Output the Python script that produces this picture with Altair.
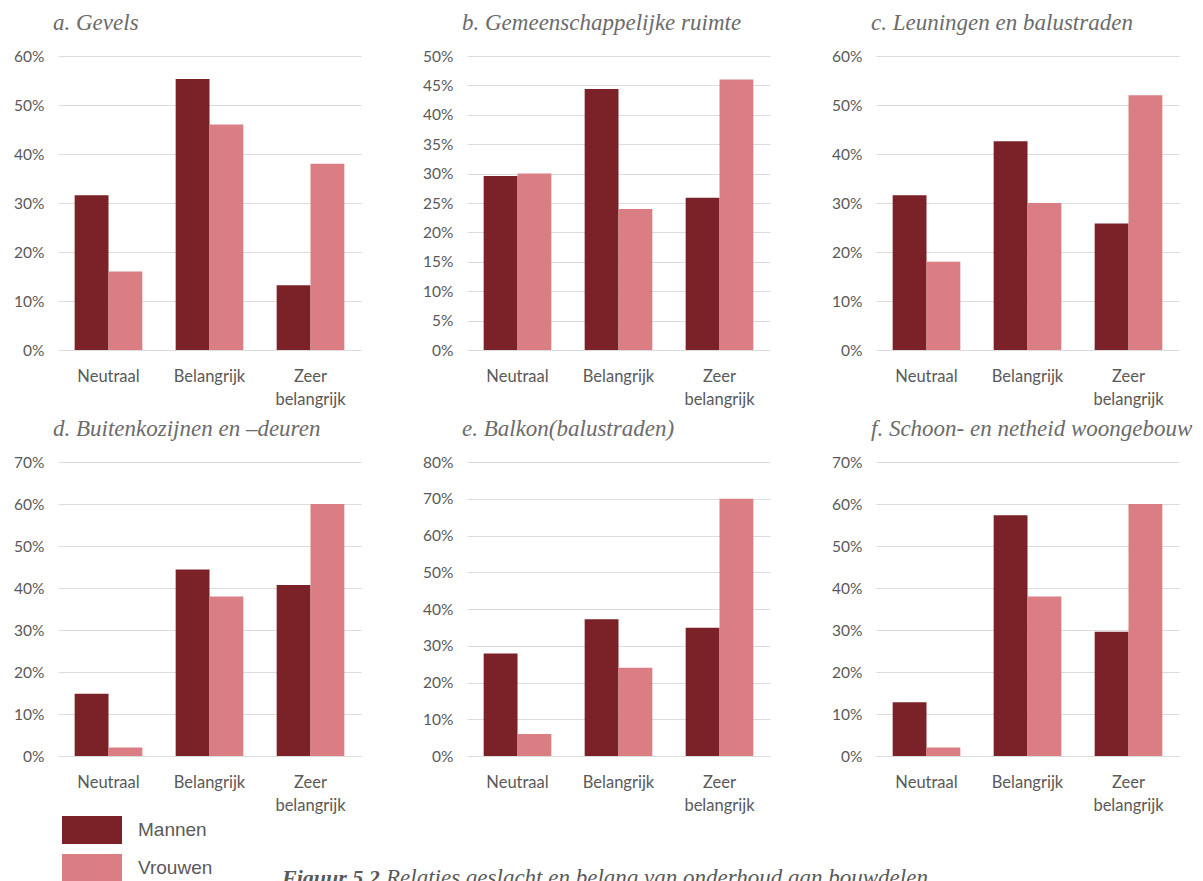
import altair as alt
import pandas as pd

categories = ["Neutraal", "Belangrijk", "Zeer belangrijk"]
genders = ["Mannen", "Vrouwen"]
colors = ["#7A2228", "#DB7E83"]

titles = [
    "a. Gevels",
    "b. Gemeenschappelijke ruimte",
    "c. Leuningen en balustraden",
    "d. Buitenkozijnen en \u2013deuren",
    "e. Balkon(balustraden)",
    "f. Schoon- en netheid woongebouw",
]
mannen_a = [31.6, 55.3, 13.2]
vrouwen_a = [16, 46, 38]
mannen_b = [29.6, 44.4, 25.9]
vrouwen_b = [30, 24, 46]
mannen_c = [31.6, 42.6, 25.8]
vrouwen_c = [18, 30, 52]
mannen_d = [14.8, 44.4, 40.7]
vrouwen_d = [2, 38, 60]
mannen_e = [27.9, 37.2, 34.9]
vrouwen_e = [6, 24, 70]
mannen_f = [12.8, 57.3, 29.6]
vrouwen_f = [2, 38, 60]
y_max = [60, 50, 60, 70, 80, 70]
y_step = [10, 5, 10, 10, 10, 10]

caption_bold = "Figuur 5.2"
caption_rest = "Relaties geslacht en belang van onderhoud aan bouwdelen"

series = [
    (mannen_a, vrouwen_a), (mannen_b, vrouwen_b), (mannen_c, vrouwen_c),
    (mannen_d, vrouwen_d), (mannen_e, vrouwen_e), (mannen_f, vrouwen_f),
]

PAD_L, PAD_T = 12, 12
LABEL_COLOR = "#595959"
GRID_COLOR = "#dcdcdc"


def panel(i):
    m, v = series[i]
    rows = []
    for c, a, b in zip(categories, m, v):
        rows.append({"cat": c, "sex": "Mannen", "val": a / 100})
        rows.append({"cat": c, "sex": "Vrouwen", "val": b / 100})
    df = pd.DataFrame(rows)
    ticks = [k / 100 for k in range(0, y_max[i] + 1, y_step[i])]
    return alt.Chart(df).mark_bar().encode(
        x=alt.X("cat:N", sort=categories, title=None,
                scale=alt.Scale(paddingInner=0.33, paddingOuter=0.165),
                axis=alt.Axis(labelAngle=0, labelExpr="split(datum.label, ' ')",
                              domain=False, ticks=False, labelPadding=18,
                              labelFont="Lato", labelFontSize=16.5,
                              labelColor=LABEL_COLOR, labelLineHeight=23,
                              grid=False)),
        xOffset=alt.XOffset("sex:N", sort=genders),
        y=alt.Y("val:Q", title=None,
                scale=alt.Scale(domain=[0, y_max[i] / 100], nice=False),
                axis=alt.Axis(format=".0%", values=ticks, domain=False,
                              ticks=False, labelPadding=14, labelFont="Lato",
                              labelFontSize=15.5, labelColor=LABEL_COLOR,
                              gridColor=GRID_COLOR, gridWidth=1,
                              minExtent=46, maxExtent=46)),
        color=alt.Color("sex:N", sort=genders,
                        scale=alt.Scale(domain=genders, range=colors),
                        legend=alt.Legend(
                            orient="none", legendX=20,
                            legendY=760, title=None,
                            symbolType="M-2.143,-1H2.143V1H-2.143Z",
                            symbolSize=784, symbolStrokeWidth=0,
                            symbolOpacity=1, labelOffset=32, rowPadding=10,
                            labelFont="Liberation Sans", labelFontSize=19,
                            labelColor=LABEL_COLOR, padding=0)),
    ).properties(
        width=303, height=294,
        title=alt.TitleParams(text=titles[i], anchor="start", frame="group",
                              font="Liberation Serif", fontStyle="italic",
                              fontWeight="normal", fontSize=23,
                              color="#6b6b6b", offset=14, dx=-5),
    )


cap_df = pd.DataFrame({"part": ["bold", "rest"],
                       "txt": [caption_bold, caption_rest]})
cap_h = 59
cap_base = alt.Chart(cap_df)
cap_bold = cap_base.transform_filter("datum.part == 'bold'").mark_text(
    align="left", baseline="alphabetic", font="Liberation Serif",
    fontStyle="italic", fontWeight="bold", fontSize=22, color="#595959",
    clip=True).encode(text="txt:N", x=alt.value(224), y=alt.value(cap_h + 2))
cap_rest = cap_base.transform_filter("datum.part == 'rest'").mark_text(
    align="left", baseline="alphabetic", font="Liberation Serif",
    fontStyle="italic", fontWeight="normal", fontSize=23, color="#595959",
    clip=True).encode(text="txt:N", x=alt.value(328), y=alt.value(cap_h + 2))
caption = alt.layer(cap_bold, cap_rest).properties(width=1080, height=cap_h)

row1 = alt.hconcat(panel(0), panel(1), panel(2), spacing=60)
row2 = alt.hconcat(panel(3), panel(4), panel(5), spacing=60)

chart = alt.vconcat(row1, row2, caption, spacing=10).properties(
    padding={"left": PAD_L, "top": PAD_T, "right": 3, "bottom": 0},
    background="white",
).configure_view(stroke=None)

chart.save("out.html", embed_options={"renderer": "svg", "actions": False})
